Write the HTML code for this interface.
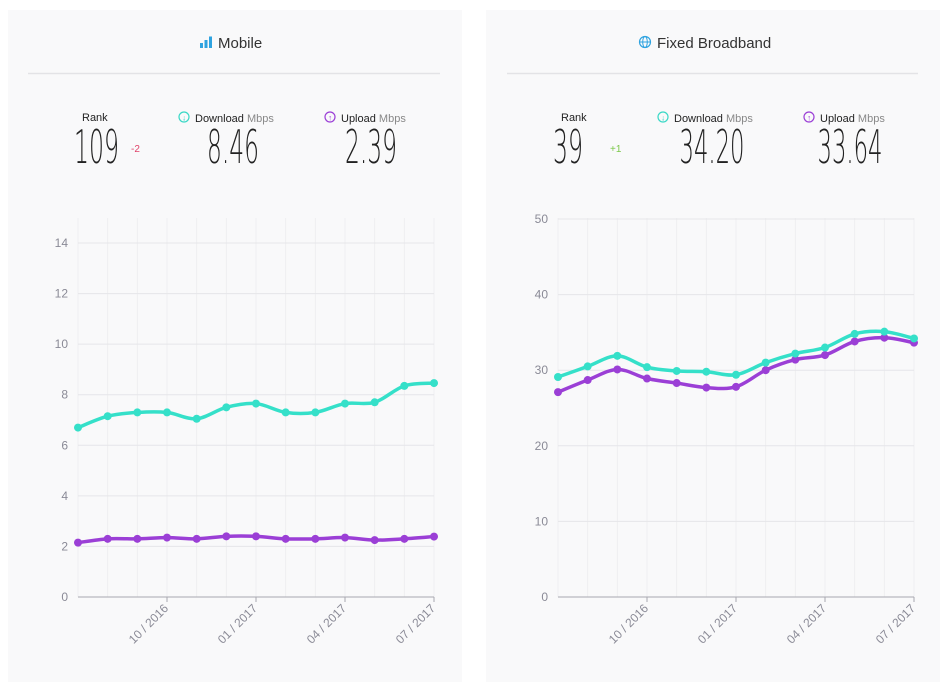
<!DOCTYPE html>
<html><head><meta charset="utf-8"><style>
html,body{margin:0;padding:0;background:#fff;width:949px;height:687px;overflow:hidden}
svg{display:block}
</style></head><body>
<svg id="s" width="949" height="687" xmlns="http://www.w3.org/2000/svg" font-family="Liberation Sans, sans-serif">
<rect x="8" y="10" width="454" height="672" fill="#f9f9fa"/>
<rect x="486" y="10" width="454" height="672" fill="#f9f9fa"/>
<line x1="28" y1="73.5" x2="440" y2="73.5" stroke="#e3e3e6" stroke-width="1.5"/>
<line x1="507" y1="73.5" x2="918" y2="73.5" stroke="#e3e3e6" stroke-width="1.5"/>
<g fill="#2ea3e0"><rect x="200" y="43" width="3" height="5"/><rect x="204.5" y="40" width="3" height="8"/><rect x="209" y="36.5" width="3" height="11.5"/></g>
<text x="218" y="48" font-size="15" fill="#333">Mobile</text>
<circle cx="645" cy="42" r="5.5" fill="none" stroke="#2ea3e0" stroke-width="1.2"/>
<ellipse cx="645" cy="42" rx="2.3" ry="5.5" fill="none" stroke="#2ea3e0" stroke-width="1"/>
<line x1="639.5" y1="42" x2="650.5" y2="42" stroke="#2ea3e0" stroke-width="1"/>
<text x="657" y="48" font-size="15" fill="#333">Fixed Broadband</text>
<g id="stats"></g>
<g id="charts"></g>
</svg>
<script>
var NS="http://www.w3.org/2000/svg";
function el(p,t,a,txt){var e=document.createElementNS(NS,t);for(var k in a)e.setAttribute(k,a[k]);if(txt!=null)e.textContent=txt;p.appendChild(e);return e;}
var st=document.getElementById('stats');
function big(x,txt,anchor,w){
 el(st,'text',{x:x,y:163,'font-size':46,fill:'#222','font-family':'DejaVu Sans, Liberation Sans Narrow, sans-serif','font-weight':'200','text-anchor':anchor,textLength:w,lengthAdjust:'spacingAndGlyphs'},txt);
}
function mb(t){var s=document.createElementNS(NS,'tspan');s.setAttribute('fill','#888');s.textContent=' Mbps';t.appendChild(s);}
function stats(ox,rank,delta,dc,dl,ul){
 el(st,'text',{x:ox+82,y:121,'font-size':11,fill:'#222'},'Rank');
 big(ox+74,rank,'start',rank.length*15);
 el(st,'text',{x:ox+131,y:152,'font-size':10,fill:dc},delta);
 el(st,'circle',{cx:ox+184,cy:117,r:5,fill:'none',stroke:'#3ad8c6','stroke-width':1.2});
 el(st,'text',{x:ox+184,y:120.5,'font-size':8,fill:'#3ad8c6','text-anchor':'middle'},'↓');
 mb(el(st,'text',{x:ox+195,y:122,'font-size':11,fill:'#222'},'Download'));
 big(ox+233,dl,'middle',dl.length*13);
 el(st,'circle',{cx:ox+330,cy:117,r:5,fill:'none',stroke:'#9b3fd6','stroke-width':1.2});
 el(st,'text',{x:ox+330,y:120.5,'font-size':8,fill:'#9b3fd6','text-anchor':'middle'},'↑');
 mb(el(st,'text',{x:ox+341,y:122,'font-size':11,fill:'#222'},'Upload'));
 big(ox+371,ul,'middle',ul.length*13);
}
stats(0,'109','-2','#e0446a','8.46','2.39');
stats(479,'39','+1','#7cc84a','34.20','33.64');
var ch=document.getElementById('charts');
function smooth(pts){var d='M'+pts[0][0]+','+pts[0][1];for(var i=0;i<pts.length-1;i++){var p0=pts[i-1]||pts[i],p1=pts[i],p2=pts[i+1],p3=pts[i+2]||p2;var t=6;
 d+=' C'+(p1[0]+(p2[0]-p0[0])/t)+','+(p1[1]+(p2[1]-p0[1])/t)+' '+(p2[0]-(p3[0]-p1[0])/t)+','+(p2[1]-(p3[1]-p1[1])/t)+' '+p2[0]+','+p2[1];}return d;}
function chart(x0,x1,y0,ytop,max,step,dl,ul){
 var n=13,sx=(x1-x0)/(n-1),sy=(y0-ytop)/max;
 for(var i=0;i<n;i++){var x=x0+i*sx;el(ch,'line',{x1:x,y1:218,x2:x,y2:y0,stroke:'#efeff1','stroke-width':1});}
 for(var v=step;v<=max;v+=step){var y=y0-v*sy;el(ch,'line',{x1:x0,y1:y,x2:x1,y2:y,stroke:'#e6e6e9','stroke-width':1});}
 for(var v=0;v<=max;v+=step){var y=y0-v*sy;el(ch,'text',{x:x0-10,y:y+4,'font-size':12,fill:'#8a8a96','text-anchor':'end'},v);}
 el(ch,'line',{x1:x0,y1:y0,x2:x1,y2:y0,stroke:'#a8a8b0','stroke-width':1});
 var labs=['10 / 2016','01 / 2017','04 / 2017','07 / 2017'];
 for(var k=0;k<4;k++){var x=x0+(3+3*k)*sx;el(ch,'line',{x1:x,y1:y0,x2:x,y2:y0+5,stroke:'#a8a8b0'});
  el(ch,'text',{x:x+2,y:y0+12,'font-size':12,fill:'#8a8a96','text-anchor':'end',transform:'rotate(-45 '+(x+2)+' '+(y0+12)+')'},labs[k]);}
 [[ul,'#9b3fd6'],[dl,'#35e0c9']].forEach(function(s){var pts=s[0].map(function(v,i){return [x0+i*sx,y0-v*sy];});
  el(ch,'path',{d:smooth(pts),fill:'none',stroke:s[1],'stroke-width':3.5,'stroke-linejoin':'round'});
  pts.forEach(function(p){el(ch,'circle',{cx:p[0],cy:p[1],r:4,fill:s[1]});});});
}
chart(78,434,597,243,14,2,[6.7,7.15,7.3,7.3,7.05,7.5,7.65,7.3,7.3,7.65,7.7,8.35,8.46],[2.15,2.3,2.3,2.35,2.3,2.4,2.4,2.3,2.3,2.35,2.25,2.3,2.39]);
chart(558,914,597,219,50,10,[29.1,30.5,31.9,30.4,29.9,29.8,29.4,31,32.2,33,34.8,35.1,34.2],[27.1,28.7,30.1,28.9,28.3,27.7,27.8,30,31.4,32,33.8,34.3,33.64]);
</script>
</body></html>
